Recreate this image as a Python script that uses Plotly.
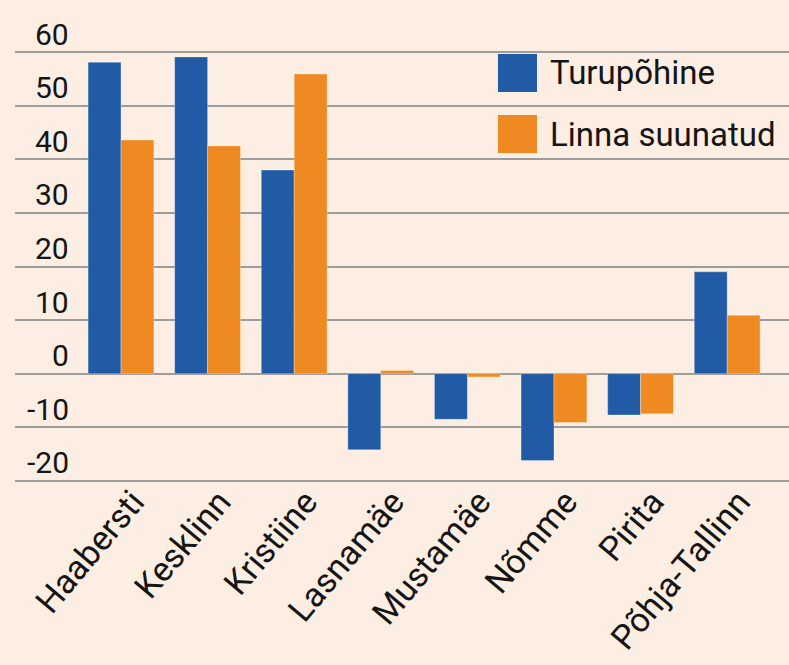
import plotly.graph_objects as go

categories = ["Haabersti", "Kesklinn", "Kristiine", "Lasnamäe", "Mustamäe", "Nõmme", "Pirita", "Põhja-Tallinn"]
turupohine = [58.1, 59.1, 38.0, -14.2, -8.5, -16.2, -7.7, 19.0]
linna_suunatud = [43.6, 42.5, 55.9, 0.6, -0.6, -9.1, -7.5, 10.9]
series_names = ["Turupõhine", "Linna suunatud"]
y_ticks = [60, 50, 40, 30, 20, 10, 0, -10, -20]

BLUE = "#215AA5"
ORANGE = "#EF8A22"
BG = "#FCEEE3"
GRID = "#9C9C9C"
FONT = "Roboto"
TXT = "#151515"

fig = go.Figure()
fig.add_trace(go.Bar(x=categories, y=turupohine, name=series_names[0],
                     marker=dict(color=BLUE, line=dict(color="rgba(255,255,255,0.3)", width=1))))
fig.add_trace(go.Bar(x=categories, y=linna_suunatud, name=series_names[1],
                     marker=dict(color=ORANGE, line=dict(color="rgba(255,255,255,0.3)", width=1))))

annotations = []
for v in y_ticks:
    annotations.append(dict(x=0.072, xref="paper", y=v, yref="y", text=str(v),
                            showarrow=False, xanchor="right", yanchor="middle", yshift=18,
                            font=dict(family=FONT, size=30, color=TXT)))

# manual legend
shapes = []
leg_colors = [BLUE, ORANGE]
leg_y = [(0.903, 0.9908), (0.7621, 0.8499)]
for i, name in enumerate(series_names):
    shapes.append(dict(type="rect", xref="paper", yref="paper", x0=0.624, x1=0.6744,
                       y0=leg_y[i][0], y1=leg_y[i][1], fillcolor=leg_colors[i], line=dict(width=0)))
    annotations.append(dict(x=0.6886, xref="paper", y=(leg_y[i][0] + leg_y[i][1]) / 2, yref="paper",
                            text=name, showarrow=False, xanchor="left", yanchor="middle",
                            font=dict(family=FONT, size=33, color=TXT)))

fig.update_layout(
    width=789, height=665,
    margin=dict(l=15, r=0, t=50, b=182, autoexpand=False),
    paper_bgcolor=BG, plot_bgcolor=BG,
    barmode="group", bargap=0.24, bargroupgap=0,
    showlegend=False,
    font=dict(family=FONT, color=TXT),
    annotations=annotations, shapes=shapes,
    xaxis=dict(range=[-1.224, 7.714], tickangle=-50, showgrid=False, showline=False,
               ticks="", automargin=False, ticklabelshift=12, ticklabelstandoff=-9,
               tickfont=dict(family=FONT, size=34, color=TXT)),
    yaxis=dict(range=[-20.4, 60.4], tickvals=y_ticks, showticklabels=False, showgrid=True,
               gridcolor=GRID, gridwidth=2, zeroline=True, zerolinecolor=GRID, zerolinewidth=2,
               showline=False, automargin=False),
)

fig.write_html("out.html", config={"displayModeBar": False},
               post_script="document.body.style.margin='0';document.body.style.padding='0';"
                           "document.body.style.background='#FCEEE3';"
                           "document.documentElement.style.background='#FCEEE3';")
